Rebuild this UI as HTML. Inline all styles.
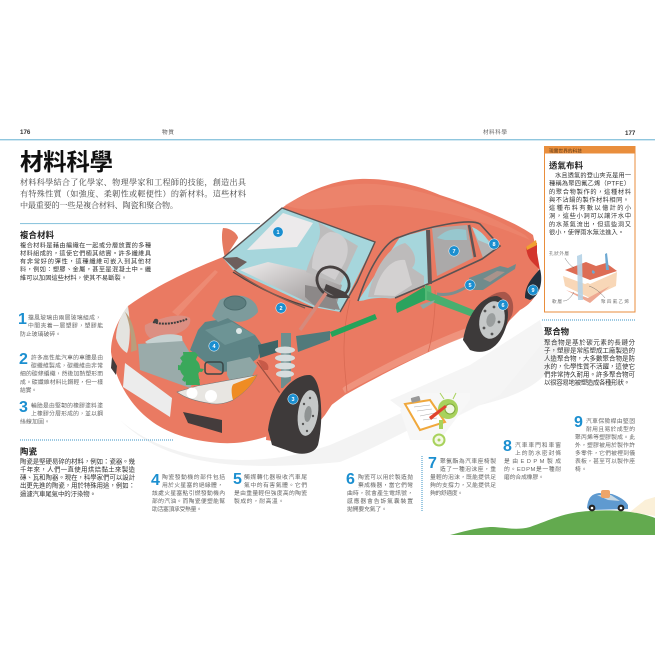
<!DOCTYPE html>
<html><head><meta charset="utf-8"><style>
html,body{margin:0;padding:0;background:#fff;width:655px;height:655px;overflow:hidden}
svg{display:block;filter:blur(.3px)}
text{font-family:"Liberation Sans","Noto Sans CJK TC",sans-serif}
.s{font-size:8.1px;fill:#444}
.s text{font-family:"Noto Serif CJK SC","Noto Sans CJK TC",serif}
.i{font-size:5.8px;fill:#666}
.b{font-size:6.2px;fill:#333}
.c{font-size:6.4px;fill:#333}
.d{font-size:6.2px;fill:#333}
.e{font-size:6.5px;fill:#333}
.h{font-size:8.4px;font-weight:700;fill:#222}
.n{font-size:16px;font-weight:700;fill:#1b8fd0}
.l{font-size:5.5px;font-weight:700;fill:#fff;text-anchor:middle}
.m{font-size:4.6px;fill:#777}
</style></head><body>
<svg width="655" height="655" viewBox="0 0 655 655" xmlns="http://www.w3.org/2000/svg">
<defs>
<linearGradient id="dash" x1="0" y1="0" x2="1" y2="1"><stop offset="0" stop-color="#efeded"/><stop offset="1" stop-color="#8f8a8a"/></linearGradient>
</defs>
<rect width="655" height="655" fill="#fff"/>
<!-- shadow -->
<path d="M120,420 C170,465 260,470 330,445 C400,415 460,385 520,355 L560,335 C560,390 500,400 460,410 C420,420 395,440 340,462 C250,470 170,470 120,420Z" fill="#f3f3f3"/>
<path d="M390,400 L470,365 L540,320 L545,340 L500,395 L430,430Z" fill="#f5f5f5"/>
<!-- header -->
<text x="20" y="134" font-size="6.2" font-weight="700" fill="#333">176</text>
<text x="162" y="134" font-size="5.6" fill="#555" textLength="12">物質</text>
<text x="483" y="134" font-size="5.6" fill="#666" textLength="24">材料科學</text>
<text x="625" y="135" font-size="6.2" font-weight="700" fill="#333">177</text>
<rect x="0" y="139" width="655" height="1.4" fill="#8fc6de"/>
<text x="20" y="170" font-size="23.5" font-weight="700" fill="#111" textLength="93">材料科學</text>
<g class="s">
<text x="20" y="185" textLength="226">材料科學結合了化學家、物理學家和工程師的技能&#65292;創造出具</text>
<text x="20" y="196.5" textLength="226">有特殊性質&#65288;如強度、柔韌性或輕便性&#65289;的新材料。這些材料</text>
<text x="20" y="208" textLength="158">中最重要的一些是複合材料、陶瓷和聚合物。</text>
</g>
<rect x="20" y="223" width="240" height="1.1" fill="#8fc6de"/>
<text class="h" x="20" y="238" textLength="34">複合材料</text>
<g class="b">
<text x="20" y="247.5" textLength="131">複合材料是藉由編織在一起或分層放置的多種</text>
<text x="20" y="255.5" textLength="131">材料組成的&#65292;這使它們極其結實。許多纖維具</text>
<text x="20" y="263.5" textLength="131">有非常好的彈性&#65292;這種纖維可嵌入到其他材</text>
<text x="20" y="271.5" textLength="131">料&#65292;例如&#65306;塑膠、金屬&#65292;甚至是混凝土中。纖</text>
<text x="20" y="280" textLength="107">維可以加固這些材料&#65292;使其不易斷裂。</text>
</g>
<!-- left items -->
<text class="n" x="18" y="324">1</text>
<g class="i">
<text x="28" y="319.5" textLength="73">擋風玻璃由兩層玻璃組成&#65292;</text>
<text x="28" y="327.5" textLength="75">中間夾着一層塑膠&#65292;塑膠能</text>
<text x="20" y="336" textLength="41">防止玻璃破碎。</text>
</g>
<text class="n" x="19" y="364">2</text>
<g class="i">
<text x="31" y="359.5" textLength="72">許多高性能汽車的車體是由</text>
<text x="31" y="367.5" textLength="72">碳纖維製成&#65292;碳纖維由非常</text>
<text x="20" y="375.5" textLength="83">細的碳條編織&#65292;然後加熱塑形而</text>
<text x="20" y="384" textLength="83">成。碳纖維材料比鋼輕&#65292;但一樣</text>
<text x="20" y="392" textLength="17">結實。</text>
</g>
<text class="n" x="19" y="412">3</text>
<g class="i">
<text x="31" y="407.5" textLength="72">輪胎是由堅韌的橡膠塗料塗</text>
<text x="31" y="415.5" textLength="72">上橡膠分層形成的&#65292;並以鋼</text>
<text x="20" y="423.5" textLength="30">絲線加固。</text>
</g>
<line x1="20" y1="440" x2="173" y2="440" stroke="#3a93c4" stroke-width="1" stroke-dasharray="1 1"/>
<text class="h" x="20" y="454.5" textLength="17">陶瓷</text>
<g class="c">
<text x="20" y="463.5" textLength="115">陶瓷是堅硬易碎的材料&#65292;例如&#65306;瓷器。幾</text>
<text x="20" y="471.5" textLength="115">千年來&#65292;人們一直使用烘焙黏土來製造</text>
<text x="20" y="479.5" textLength="115">磚、瓦和陶器。現在&#65292;科學家們可以設計</text>
<text x="20" y="487.5" textLength="115">出更先進的陶瓷&#65292;用於特殊用途&#65292;例如&#65306;</text>
<text x="20" y="496" textLength="76">過濾汽車尾氣中的汙染物。</text>
</g>
<!-- car body -->
<path d="M128,306 C160,283 195,268 223,257 L282,208 C300,195 330,180 360,179 C390,178 420,186 440,195 C480,208 515,222 533,235 L537,253 L540,283 C538,295 530,305 520,310 L512,318 L500,330 L463,337 C420,355 380,375 345,395 L322,412 L268,436 C250,442 235,444 220,443 C190,441 165,432 150,420 C130,405 115,380 111,352 C111,335 118,320 128,306Z" fill="#ea7a62"/>
<path d="M285,205 C310,190 345,182 375,184 C420,188 470,205 525,235 L530,240 C480,218 420,205 375,205 C340,205 310,215 285,205Z" fill="#ef8f78" opacity=".45"/>
<path d="M172,312 L215,270 L218,272 L178,316Z" fill="#f09a84" opacity=".5"/>
<path d="M342,388 C390,360 450,332 495,318 L500,325 C450,340 390,368 345,393Z" fill="#f09a84" opacity=".8"/>
<path d="M350,300 C340,340 345,370 347,392 M435,290 C436,310 432,340 428,352" fill="none" stroke="#d96a53" stroke-width=".8"/>
<!-- mirror -->
<path d="M223,228 C232,228 238,235 238,238 L225,258 C222,245 221,235 223,228Z" fill="#e57a60"/>
<!-- windshield -->
<path d="M223,258 L282,208 L375,242 L340,312 L313,307 L233,270Z" fill="#a6d6dc"/>
<path d="M247,250 L283,213 L313,223 L297,247Z" fill="#eceaeb"/>
<path d="M240,270 L268,262 L313,272 L342,285 L335,310 L315,306Z" fill="url(#dash)"/>
<path d="M223,258 L237,257 L247,262 L236,270Z" fill="#6d5f5d"/>
<path d="M318,222 C325,238 312,250 306,272 L340,285 L358,246Z" fill="#bdbcbc"/>
<path d="M330,232 C345,232 352,245 345,262 L335,280 L312,268 C312,250 320,235 330,232Z" fill="#d0cecf"/>
<path d="M305,285 L332,290 L340,310 L315,306 L305,297Z" fill="#8c8888"/>
<path d="M223,258 L282,208 L375,242 L357,282 L340,312" fill="none" stroke="#5a5353" stroke-width="1.4"/>
<path d="M233,272 C260,290 290,302 313,308" fill="none" stroke="#4a4444" stroke-width="1.3"/>
<ellipse cx="333" cy="282" rx="17" ry="14" transform="rotate(35 333 282)" fill="none" stroke="#474141" stroke-width="2.8"/>
<path d="M326,284 L345,292 L350,298 L338,298 L324,290Z" fill="#474141"/>
<path d="M326,293 L300,330" stroke="#d68a7c" stroke-width="3.5"/>
<!-- side windows -->
<path d="M358,301 L400,237 L427,230 L428,283 L395,298Z" fill="#a6d6dc"/>
<path d="M368,297 C372,275 385,248 405,243 C415,250 418,262 412,268 L424,276 L424,285 L395,298Z" fill="#bdbbbb"/>
<path d="M374,295 C378,275 390,258 405,260 L412,285 L395,296Z" fill="#d3d1d1"/>
<path d="M432,228 L467,225 L473,258 L437,276Z" fill="#aba9a9"/>
<path d="M437,238 C447,228 458,228 466,230 L467,240 L445,240Z" fill="#97c7ce"/>
<path d="M472,227 L497,247 L483,258Z" fill="#b4b2b2"/>
<path d="M472,227 C480,230 488,238 490,245 L478,240Z" fill="#a6d6dc"/>
<path d="M358,301 C368,270 385,240 400,237 C425,227 470,218 480,224 L500,246 L482,259 L428,284 L395,298" fill="none" stroke="#5a5353" stroke-width="1.6"/>
<path d="M428,230 L430,284" stroke="#5f5555" stroke-width="4"/>
<path d="M469,225 L475,257" stroke="#5f5555" stroke-width="2.5"/>
<!-- tail -->
<path d="M526,247 L537,243 L537,253 L540,270 L533,263 C528,258 527,254 526,247Z" fill="#d3352c"/>
<path d="M526,247 L536,240 L537,245 L527,250Z" fill="#f0a030"/>
<path d="M540,269 C543,280 541,295 530,300 L525,298 C525,285 532,278 540,269Z" fill="#22303d"/>
<!-- exhaust -->
<path d="M437,294 C450,296 458,292 470,285" fill="none" stroke="#7b8f8f" stroke-width="3"/>
<path d="M469,278 L500,266 L508,268 L516,264 L515,269 L507,274 L483,290 L470,290Z" fill="#708b8c"/>
<path d="M483,279 L497,271 L505,272 L490,282Z" fill="#a9938b"/>
<!-- drive shaft -->
<path d="M330,332 L375,314 L377,319 L332,337Z" fill="#25a35a"/>
<path d="M395,304 L424,287 L430,298 L397,313Z" fill="#2ba35e"/>
<path d="M425,285 L431,286 L432,300 L425,300Z" fill="#54b976"/>
<path d="M427,291 L481,313 L478,319 L427,300Z" fill="#49ae6f"/>
<path d="M420,305 L435,300 L433,303 L423,309Z" fill="#8ea8a4"/>
<path d="M358,303 C365,298 385,296 397,300 L395,312 C385,315 368,314 360,308Z" fill="#ea7a62"/>
<!-- rear wheel -->
<path d="M463,340 C470,310 490,290 505,292 C512,295 515,305 512,315 L500,338Z" fill="#a8564a"/>
<path d="M463,340 C468,312 482,296 497,296 C510,300 512,320 500,340 C492,352 480,354 470,350Z" fill="#3d3a3a"/>
<ellipse cx="492" cy="320" rx="12.5" ry="19" transform="rotate(12 492 320)" fill="#c5c8c8"/>
<ellipse cx="491" cy="320" rx="4.5" ry="7" transform="rotate(12 491 320)" fill="#9a9e9e"/>
<g fill="#555"><circle cx="494" cy="307" r="1.4"/><circle cx="485" cy="311" r="1.4"/><circle cx="484" cy="328" r="1.4"/><circle cx="492" cy="334" r="1.4"/><circle cx="499" cy="322" r="1.4"/></g>
<!-- engine -->
<path d="M145,325 C160,318 180,312 190,318 C192,325 185,332 172,335 L150,338 C146,335 144,330 145,325Z" fill="#dc8f82"/>
<path d="M153,322 C165,326 180,322 187,319" fill="none" stroke="#3d3d3d" stroke-width="2" stroke-dasharray="2 1"/>
<circle cx="156" cy="321" r="2.3" fill="#444"/>
<path d="M145,342 C155,335 170,332 182,336 L183,345 C170,342 158,345 155,350Z" fill="#c7d2d2"/>
<path d="M138,344 L183,341 L200,370 L190,388 L140,370Z" fill="#9aabaa"/>
<path d="M190,350 L198,330 L205,322 L228,318 L255,335 L262,345 L258,358 L242,370 L222,372 L205,362Z" fill="#5d8486"/>
<path d="M232,322 L255,335 L225,345 L205,330Z" fill="#6d9495"/>
<path d="M212,316 L220,300 C238,290 258,298 258,312 C250,322 235,325 228,318 L218,322Z" fill="#7d9b9c"/>
<ellipse cx="235" cy="303" rx="11" ry="7" fill="#5c7d7e" stroke="#4d6d6e" stroke-width="1"/>
<circle cx="239" cy="331" r="3" fill="#dfe9e9"/>
<path d="M227,362 L250,357 L257,366 L250,380 L232,385 L227,375Z" fill="#8ea6a5"/>
<path d="M258,345 L278,340 L278,352 L260,358Z" fill="#3f6466"/>
<path d="M257,362 L280,393" stroke="#9a4f40" stroke-width="1.2"/>
<path d="M258,360 C265,360 270,364 268,370 L263,370Z" fill="#c75a48"/>
<path d="M296,336 L330,331 L330,340 L298,352Z" fill="#517a7b"/>
<g fill="#3aa85b"><path d="M183,352 L195,352 L200,385 L186,385Z"/><circle cx="190" cy="368" r="10"/><path d="M178,365 L204,369 L202,372 L178,370Z"/><path d="M183,355 L200,380 L197,382 L180,358Z"/><path d="M198,355 L185,382 L182,380 L195,352Z"/></g>
<rect x="205" y="362" width="18" height="12" rx="3" fill="none" stroke="#3a4646" stroke-width="1.5"/>
<!-- strut -->
<rect x="281" y="333" width="10" height="55" fill="#6d8f8f"/>
<g fill="#d7dddd"><ellipse cx="285" cy="350" rx="10" ry="3.5"/><ellipse cx="285" cy="358" rx="10" ry="3.5"/><ellipse cx="285" cy="366" rx="10" ry="3.5"/><ellipse cx="285" cy="374" rx="9" ry="3.5"/></g>
<!-- front lights -->
<path d="M128,306 C120,315 116,328 116,338 C118,345 122,350 127,353 C130,345 131,325 128,306Z" fill="#e4e4e0"/>
<path d="M125,312 C130,322 132,340 131,352 L137,350 C136,335 132,318 125,312Z" fill="#b99e7c"/>
<path d="M177,392 L197,386 L257,375 C252,385 244,393 233,400 C225,404 215,405 208,403 C195,401 185,398 177,392Z" fill="#e8e6e2" stroke="#777" stroke-width=".6"/>
<path d="M257,375 C252,385 244,393 233,400 C231,393 231,385 234,384Z" fill="#ef8c23"/>
<circle cx="192" cy="393" r="5.5" fill="#fff"/><circle cx="211" cy="396" r="6" fill="#fff"/>
<path d="M125,363 L172,398 L170,417 L123,387Z" fill="#ececec"/>
<path d="M183,412 L222,420 L222,433 L188,423Z" fill="#443c3c"/>
<path d="M112,357 L117,366 L116,375 L111,368Z" fill="#443c3c"/>
<path d="M234,270 C255,287 285,300 305,308" fill="none" stroke="#7d5a50" stroke-width="1.4"/>
<!-- front wheel -->
<path d="M266,440 C268,400 285,372 320,372 L345,385 L325,415 L300,445Z" fill="#ea7a62"/>
<path d="M268,430 C272,398 292,374 310,375 C322,378 324,420 318,445 C314,455 300,455 292,452 L272,445Z" fill="#3e3a3a"/>
<ellipse cx="308" cy="413" rx="10" ry="23" transform="rotate(8 308 413)" fill="#c5c8c8"/>
<ellipse cx="308" cy="414" rx="3.5" ry="8" transform="rotate(8 308 414)" fill="#8f9393"/>
<g fill="#555"><circle cx="310" cy="398" r="1.2"/><circle cx="304" cy="404" r="1.2"/><circle cx="303" cy="424" r="1.2"/><circle cx="307" cy="431" r="1.2"/><circle cx="313" cy="416" r="1.2"/></g>
<!-- labels -->
<g fill="#1b8fd0" stroke="#fff" stroke-width=".5">
<circle cx="278" cy="232" r="5.2"/><circle cx="281" cy="308" r="5.2"/><circle cx="293" cy="399" r="5.2"/><circle cx="214" cy="346" r="5.2"/><circle cx="470" cy="285" r="5.2"/><circle cx="503" cy="305" r="5.2"/><circle cx="454" cy="251" r="5.2"/><circle cx="494" cy="244" r="5.2"/><circle cx="533" cy="290" r="5.2"/>
</g>
<text class="l" x="278" y="234">1</text><text class="l" x="281" y="310">2</text><text class="l" x="293" y="401">3</text><text class="l" x="214" y="348">4</text><text class="l" x="470" y="287">5</text><text class="l" x="503" y="307">6</text><text class="l" x="454" y="253">7</text><text class="l" x="494" y="246">8</text><text class="l" x="533" y="292">9</text>
<!-- box -->
<rect x="544.5" y="146.5" width="90.5" height="165.5" fill="#fff" stroke="#e98e3c" stroke-width="1"/>
<rect x="544.5" y="146.5" width="90.5" height="7" fill="#e98e3c"/>
<text x="549" y="152.5" font-size="4.6" fill="#5a3a18" textLength="33">現實世界的科技</text>
<text class="h" x="549" y="168.5" textLength="34">透氣布料</text>
<g class="d">
<text x="555" y="177.5" textLength="76">水且透氣的登山夾克是用一</text>
<text x="549" y="185.5" textLength="81">種稱為聚四氟乙烯&#65288;PTFE&#65289;</text>
<text x="549" y="194" textLength="82">的聚合物製作的&#65292;這種材料</text>
<text x="549" y="202" textLength="80">與不沾鍋的製作材料相同。</text>
<text x="549" y="210" textLength="82">這種布料有數以億計的小</text>
<text x="549" y="218" textLength="82">洞&#65292;這些小洞可以讓汗水中</text>
<text x="549" y="226.5" textLength="82">的水蒸氣流出&#65292;但這些洞又</text>
<text x="549" y="234.5" textLength="75">很小&#65292;使得雨水無法進入。</text>
</g>
<!-- fabric diagram -->
<path d="M563,276 L585,284 L617,272 L616,286 L590,298 L565,286Z" fill="#f8d7b7"/>
<path d="M565,270 L586,262 L596,266 L606,263 L617,271 L590,280Z" fill="#dd6d55"/>
<path d="M565,272 L590,281 L617,272 L590,284Z" fill="#fff"/>
<path d="M566,290 L588,298 L610,286 L590,303Z" fill="#eea892"/>
<path d="M577,256 L582,254 L583,300 L578,300Z" fill="#b5d3e7" opacity=".9"/>
<path d="M605,254 L607,253 L609,270 L606,270Z" fill="#6ea9d2"/>
<path d="M593,270 C590,272 594,276 595,272Z" fill="#6ea9d2"/>
<text class="m" x="549" y="255" textLength="20">孔狀外層</text>
<text class="m" x="552" y="303" textLength="10">軟層</text>
<text class="m" x="601" y="303" textLength="28">聚四氟乙烯</text>
<path d="M565,258 C568,263 570,265 574,268 M563,301 C567,301 570,299 574,292 M605,298 C600,292 595,288 589,286" fill="none" stroke="#555" stroke-width=".4"/>
<line x1="542" y1="320" x2="635" y2="320" stroke="#3a93c4" stroke-width="1" stroke-dasharray="1 1"/>
<text class="h" x="544" y="334.5" textLength="25">聚合物</text>
<g class="e">
<text x="544" y="344.5" textLength="91">聚合物是基於碳元素的長鏈分</text>
<text x="544" y="352.5" textLength="91">子&#65292;塑膠是常態塑成工廠製造的</text>
<text x="544" y="360.5" textLength="91">人造聚合物&#65292;大多數聚合物是防</text>
<text x="544" y="368.5" textLength="91">水的&#65292;化學性質不活躍&#65292;這使它</text>
<text x="544" y="376.5" textLength="91">們非常持久耐用。許多聚合物可</text>
<text x="544" y="384.5" textLength="86">以很容易地被塑造成各種形狀。</text>
</g>
<!-- bottom items -->
<text class="n" x="151" y="485">4</text>
<g class="i">
<text x="162" y="479" textLength="63">陶瓷發動機的部件包括</text>
<text x="162" y="487" textLength="61">用於火星塞的絕緣體&#65292;</text>
<text x="152" y="495" textLength="73">該處火星塞點引燃發動機內</text>
<text x="152" y="503" textLength="73">部的汽油。而陶瓷便塑能幫</text>
<text x="152" y="511" textLength="50">助活塞頂承受熱量。</text>
</g>
<text class="n" x="233" y="484">5</text>
<g class="i">
<text x="244" y="479" textLength="63">觸媒轉化器吸收汽車尾</text>
<text x="244" y="487" textLength="63">氣中的有害氣體。它們</text>
<text x="234" y="495" textLength="73">是由重量輕但強度高的陶瓷</text>
<text x="234" y="503" textLength="50">製成的&#65292;耐高溫。</text>
</g>
<text class="n" x="346" y="484">6</text>
<g class="i">
<text x="358" y="479" textLength="55">陶瓷可以用於製造拋</text>
<text x="358" y="487" textLength="55">棄成機器&#65292;當它們彎</text>
<text x="347" y="495" textLength="66">曲時&#65292;就會產生電訊號&#65292;</text>
<text x="347" y="503" textLength="66">感應器會告訴氣囊裝置</text>
<text x="347" y="511" textLength="40">拋開要充氣了。</text>
</g>
<line x1="422" y1="456" x2="422" y2="511" stroke="#3a93c4" stroke-width="1" stroke-dasharray="1 1"/>
<text class="n" x="428" y="468">7</text>
<g class="i">
<text x="440" y="463" textLength="56">聚氨酯為汽車座椅製</text>
<text x="440" y="471" textLength="56">造了一種泡沫座&#65292;重</text>
<text x="430" y="479" textLength="66">量輕的泡沫&#65292;既能提供足</text>
<text x="430" y="487" textLength="66">夠的支撐力&#65292;又能提供足</text>
<text x="430" y="495" textLength="33">夠的舒適度。</text>
</g>
<text class="n" x="503" y="451">8</text>
<g class="i">
<text x="515" y="447" textLength="46">汽車車門和車窗</text>
<text x="515" y="455" textLength="46">上的防水密封條</text>
<text x="504" y="463" textLength="57">是由EDPM製成</text>
<text x="504" y="471" textLength="57">的。EDPM是一種耐</text>
<text x="504" y="479" textLength="40">磨的合成橡膠。</text>
</g>
<text class="n" x="574" y="427">9</text>
<g class="i">
<text x="586" y="423" textLength="49">汽車保險桿由堅固</text>
<text x="586" y="431" textLength="49">耐用且易於成型的</text>
<text x="575" y="439" textLength="60">聚丙烯等塑膠製成。此</text>
<text x="575" y="447" textLength="60">外&#65292;塑膠被用於製作許</text>
<text x="575" y="455" textLength="60">多零件&#65292;它們被裡到儀</text>
<text x="575" y="463" textLength="60">表板&#65292;甚至可以製作座</text>
<text x="575" y="471" textLength="12">椅。</text>
</g>
<!-- clipboard robot -->
<path d="M400,410 L422,393 L470,393 L470,400 L440,440 L410,440Z" fill="#f7f7f7"/>
<path d="M405,404 L430,400 L445,422 L420,430Z" fill="#fff" stroke="#f0a83c" stroke-width="2"/>
<g stroke="#aaa" stroke-width=".6"><line x1="414" y1="407" x2="430" y2="405"/><line x1="417" y1="411" x2="432" y2="409"/><line x1="420" y1="416" x2="435" y2="413"/><line x1="423" y1="420" x2="437" y2="418"/></g>
<rect x="411" y="397" width="9" height="5" rx="1" fill="#999" transform="rotate(-15 415 399)"/>
<circle cx="448" cy="409" r="10" fill="#a8d25c"/>
<circle cx="450" cy="409" r="5" fill="#f1f7e2" stroke="#7da83b"/>
<path d="M429,417 L445,405 L447,407 L431,420Z" fill="#e2432d"/>
<rect x="439" y="420" width="4" height="9" fill="#a8d25c"/>
<circle cx="439" cy="440" r="5.5" fill="#f4f8e4" stroke="#a8d25c" stroke-width="2"/>
<circle cx="439" cy="440" r="1.5" fill="#a8d25c"/>
<line x1="444" y1="399" x2="440" y2="393" stroke="#a8d25c"/><line x1="453" y1="399" x2="456" y2="393" stroke="#a8d25c"/>
<!-- landscape -->
<path d="M630,512 L645,500 L655,497 L655,516Z" fill="#fbf0d8"/>
<path d="M450,535 C462,532 475,528 490,527 C505,527 515,531 530,527 C550,520 565,512 590,511 C615,509 640,512 655,518 L655,535Z" fill="#63aa4f"/>
<path d="M587,508 C588,497 592,494 599,493 L612,494 C620,497 625,500 628,505 L628,509 L590,510Z" fill="#5f9ad0"/>
<path d="M597,495 L608,500 L620,501 L611,495Z" fill="#c8d8e2"/>
<rect x="601" y="490" width="9" height="8" rx="2" fill="#eda56a"/>
<circle cx="592" cy="508" r="3.4" fill="#222"/><circle cx="592" cy="508" r="1.3" fill="#fff"/>
<circle cx="621" cy="508" r="3.4" fill="#222"/><circle cx="621" cy="508" r="1.3" fill="#fff"/>
</svg>
</body></html>
